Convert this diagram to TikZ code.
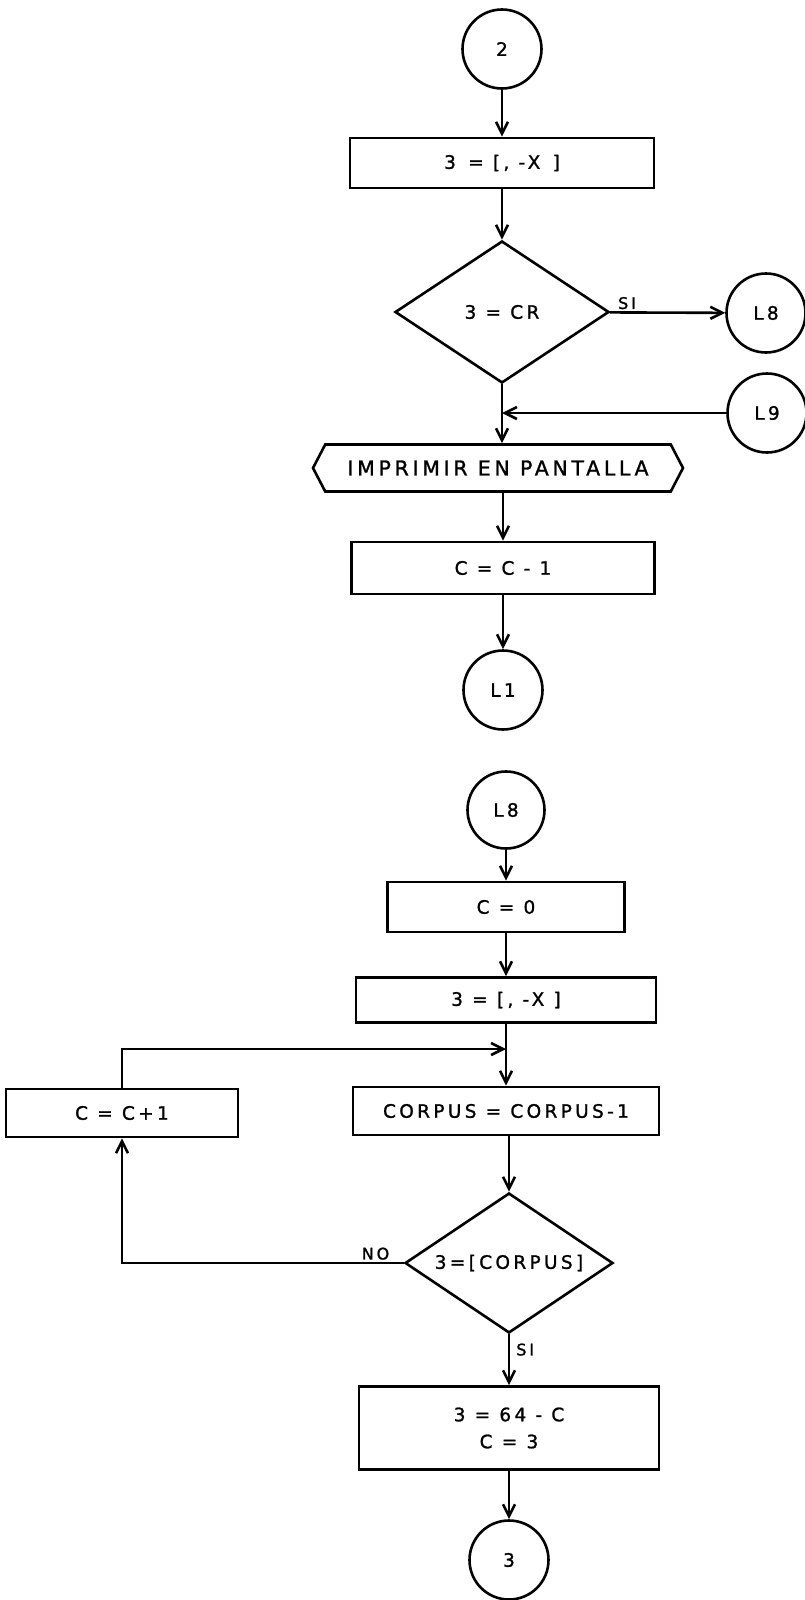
\documentclass[tikz,border=0pt]{standalone}
\usepackage{fontspec}
\setmainfont[LetterSpace=18,FakeBold=1.2]{DejaVu Sans}
\usetikzlibrary{shapes.geometric,shapes.symbols,arrows.meta}

\begin{document}
\begin{tikzpicture}
        [x=1pt, y=-1pt,
         font=\fontsize{18.5}{27}\selectfont,
         line width=2.6pt,
         conn_style/.style={circle,draw=black,minimum size=79pt,inner sep=0pt},
         box_style/.style={rectangle,draw=black,minimum height=50pt,inner sep=2pt},
         cond_style/.style={diamond,draw=black,inner sep=0pt},
         io_style/.style={signal,signal to=west and east,signal pointer angle=125,draw=black,minimum height=47pt},
         label_style/.style={font=\fontsize{16}{18}\selectfont,inner sep=2pt},
         edge_style/.style={draw=black,-{Straight Barb[length=12pt,width=12pt]}}]
            \useasboundingbox (0,0) rectangle (805,1600);
            % first page: read a character
            \node[conn_style] (c2) at (502, 49) {2};
            \node[box_style,minimum width=304pt] (b1) at (502, 163) {3 \,= [, -X \,]};
            \node[cond_style,minimum width=214pt,minimum height=142pt] (d1) at (502, 312) {3 = CR};
            \node[conn_style] (l8a) at (766, 313) {L8};
            \node[conn_style] (l9) at (767, 413) {L9};
            \coordinate (j1) at (502, 413);
            \node[io_style,minimum width=370pt,font=\fontsize{20.5}{24}\selectfont] (pant) at (498, 468) {IMPRIMIR EN PANTALLA};
            \node[box_style,minimum width=303pt,minimum height=52pt] (b2) at (503, 568) {C = C - 1};
            \node[conn_style] (l1) at (503, 690) {L1};
            % second page: search the corpus
            \node[conn_style,minimum size=77pt] (l8b) at (506, 810) {L8};
            \node[box_style,minimum width=237pt] (b3) at (506, 907) {C = 0};
            \node[box_style,minimum width=300pt,minimum height=45pt] (b4) at (506, 1000) {3 = [, -X ]};
            \coordinate (j2) at (506, 1049);
            \node[box_style,minimum width=232pt,minimum height=48pt] (b6) at (122, 1113) {C = C+1};
            \node[box_style,minimum width=306pt,minimum height=48pt] (b5) at (506, 1111) {CORPUS = CORPUS-1};
            \node[cond_style,minimum width=208pt,minimum height=140pt,inner xsep=-40pt] (d2) at (509, 1263) {3=[CORPUS]};
            \node[box_style,minimum width=300pt,minimum height=83pt,align=center] (b7) at (509, 1428) {3 = 64 - C\\C = 3};
            \node[conn_style] (c3) at (509, 1560) {3};
            \draw[edge_style]  (c2) -- (b1);
            \draw[edge_style]  (b1) -- (d1);
            \draw[edge_style]  (d1) -- node[label_style,above,pos=0.15]{SI} (l8a);
            \draw[edge_style]  (l9) -- (j1);
            \draw[edge_style]  (d1.south) -- (d1.south |- pant.north);
            \draw[edge_style]  (pant.south -| b2) -- (b2);
            \draw[edge_style]  (b2) -- (l1);
            \draw[edge_style]  (l8b) -- (b3);
            \draw[edge_style]  (b3) -- (b4);
            \draw[edge_style]  (b4) -- (b5);
            \draw[edge_style]  (b6.north) -- (b6.north |- j2) -- (j2);
            \draw[edge_style]  (b5.south -| d2) -- (d2);
            \draw[edge_style]  (d2.west) -- node[label_style,above,pos=0.1]{NO} (b6.south |- d2.west) -- (b6.south);
            \draw[edge_style]  (d2.south) -- node[label_style,right,pos=0.3,xshift=4pt]{SI} (b7);
            \draw[edge_style]  (b7) -- (c3);
        \end{tikzpicture}
\end{document}
